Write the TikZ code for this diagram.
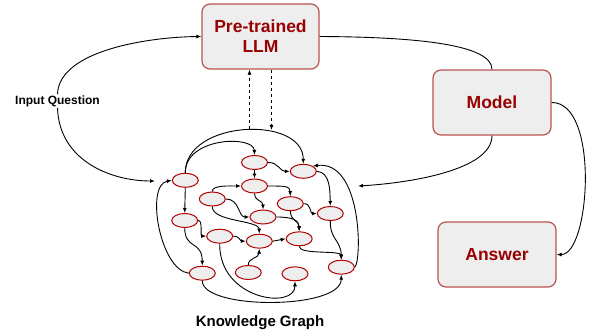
\documentclass[tikz,border=0pt]{standalone}
\usepackage{fontspec}
\setmainfont{Liberation Sans}
\usetikzlibrary{arrows.meta,shapes.geometric}
\definecolor{boxfill}{HTML}{EEEEEE}
\definecolor{boxline}{HTML}{B85450}
\definecolor{boxtext}{HTML}{990000}
\definecolor{kgline}{HTML}{B20000}
\begin{document}
\begin{tikzpicture}[x=1pt,y=-1pt,
 bigbox/.style={draw=boxline,line width=1.2pt,fill=boxfill,rounded corners=8pt,minimum width=117pt,minimum height=65pt,align=center,text=boxtext,font=\bfseries\fontsize{17.5}{20}\selectfont,inner sep=0pt},
 kgnode/.style={ellipse,draw=kgline,line width=1pt,fill=boxfill,minimum width=26pt,minimum height=14pt,inner sep=0pt},
 conn/.style={draw=black,line width=0.9pt,-{Latex[length=5pt,width=4pt]}},
 plainconn/.style={draw=black,line width=0.9pt},
 dashconn/.style={conn,dash pattern=on 3pt off 3pt},
 lbl/.style={font=\bfseries\fontsize{12}{14}\selectfont,inner sep=1pt}]
\useasboundingbox (0,0) rectangle (589,334);

% main boxes
\node[bigbox] (llm) at (260.5,36.5) {Pre-trained\\LLM};
\node[bigbox,minimum width=118pt] (model) at (492,102.5) {Model};
\node[bigbox,minimum width=118pt] (answer) at (497,254.5) {Answer};

% labels
\node[lbl] (iq) at (57.5,101) {Input Question};
\node[font=\bfseries\fontsize{15}{17}\selectfont] (kglabel) at (260,323) {Knowledge Graph};

% graph entry points
\coordinate (kgL) at (155,181);
\coordinate (kgR) at (358,186);
\coordinate (kgUp) at (249.5,129);
\coordinate (kgDown) at (271.5,130);

% knowledge graph nodes
\node[kgnode] (A) at (185.3,180.3) {};
\node[kgnode] (B) at (254.5,162.5) {};
\node[kgnode] (C) at (303.3,171.3) {};
\node[kgnode] (D) at (254.5,186) {};
\node[kgnode] (E) at (212.3,199) {};
\node[kgnode] (F) at (290.3,203.7) {};
\node[kgnode] (G) at (330.3,213.5) {};
\node[kgnode] (H) at (263,217) {};
\node[kgnode] (I) at (184.7,220.5) {};
\node[kgnode] (J) at (219.7,236.2) {};
\node[kgnode] (K) at (259.3,241.2) {};
\node[kgnode] (L) at (299.2,238.8) {};
\node[kgnode] (M) at (202.3,273.2) {};
\node[kgnode] (N) at (248.3,272.5) {};
\node[kgnode] (O) at (295,273.8) {};
\node[kgnode] (P) at (341.3,267.2) {};

% outer connectors
\draw[conn] (iq.north) .. controls (59,50) and (150,37) .. (llm.west);
\draw[conn] (iq.south) .. controls (59,160) and (110,181) .. (kgL);
\draw[plainconn] (llm.east) .. controls (420,37) and (492,45) .. (model.north);
\draw[conn] (model.south) .. controls (492,170) and (410,183) .. (kgR);
\draw[conn] (model.east) .. controls (600,102) and (590,255) .. (answer.east);
\draw[dashconn] (kgUp) -- (kgUp |- llm.south);
\draw[dashconn] (kgDown |- llm.south) -- (kgDown);

% graph edges
\draw[conn] (A.north) .. controls (185,137) and (254,135) .. (B.north);
\draw[conn] (A.north) .. controls (185,120) and (303,115) .. (C.north);
\draw[conn] (B.east) .. controls (278,162) and (280,171.5) .. (C.west);
\draw[conn] (B.south) -- (D.north);
\draw[conn] (D.east) .. controls (285,186) and (290,186) .. (F.north);
\draw[conn] (D.south) .. controls (255,202) and (263,200) .. (H.north);
\draw[conn] (E.north) .. controls (212,185) and (230,186) .. (D.west);
\draw[conn] (E.east) .. controls (240,199) and (238,217) .. (H.west);
\draw[conn] (E.south) .. controls (212,222) and (259,220) .. (K.north);
\draw[conn] (F.east) .. controls (311,203) and (310,213.5) .. (G.west);
\draw[conn] (F.south) .. controls (291,222) and (299,220) .. (L.north);
\draw[conn] (H.east) .. controls (292,217) and (299,220) .. (L.north);
\draw[conn] (C.east) .. controls (330,172) and (330,190) .. (G.north);
\draw[conn] (A.south) -- (I.north);
\draw[conn] (I.east) .. controls (203,220) and (200,236) .. (J.west);
\draw[conn] (I.south) .. controls (185,250) and (202,240) .. (M.north);
\draw[conn] (J.east) .. controls (240,236) and (240,241) .. (K.west);
\draw[conn] (K.east) -- (L.west);
\draw[conn] (L.south) .. controls (299,255) and (341,250) .. (P.north);
\draw[conn] (G.south) .. controls (330,240) and (341,240) .. (P.north);
\draw[conn] (J.south) .. controls (219,300) and (295,310) .. (O.south);
\draw[conn] (N.north) .. controls (248,258) and (259,258) .. (K.south);
\draw[conn] (M.west) .. controls (160,270) and (145,185) .. (A.west);
\draw[conn] (M.south) .. controls (202,310) and (341,310) .. (P.south);
\draw[conn] (P.east) .. controls (362,260) and (362,160) .. (C.north east);
\end{tikzpicture}
\end{document}
